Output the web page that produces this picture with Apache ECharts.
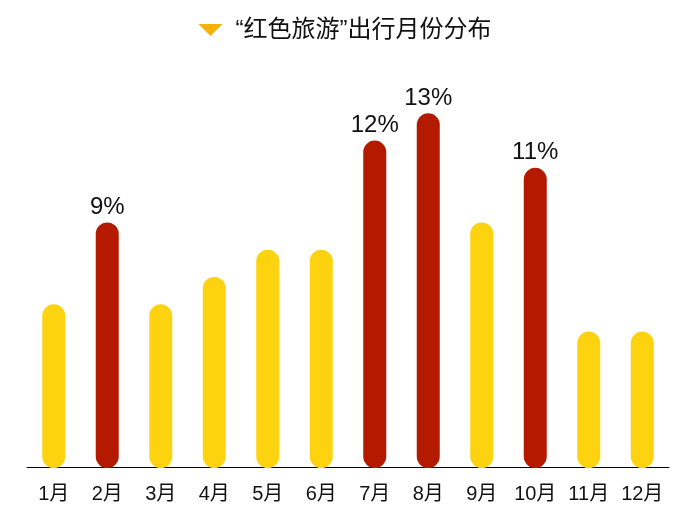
<!DOCTYPE html>
<html>
<head>
<meta charset="utf-8">
<script src="https://cdn.jsdelivr.net/npm/echarts@6/dist/echarts.min.js"></script>
<style>
html,body{margin:0;padding:0;background:#fff;}
#chart{width:690px;height:518px;}
</style>
</head>
<body>
<div id="chart"></div>
<script>
const seriesName = '“红色旅游”出行月份分布';
const months = ['1月','2月','3月','4月','5月','6月','7月','8月','9月','10月','11月','12月'];
const values = [6, 9, 6, 7, 8, 8, 12, 13, 9, 11, 5, 5];
const highlighted = ['2月','7月','8月','10月'];

const YELLOW = '#FDD310';
const RED = '#B41A00';
const FONT = '"Liberation Sans", "Noto Sans CJK SC", sans-serif';

const data = values.map((v, i) => {
  const hi = highlighted.indexOf(months[i]) >= 0;
  if (!hi) return { value: v };
  return {
    value: v,
    itemStyle: { color: RED, borderColor: RED, borderWidth: 3 },
    label: { show: true }
  };
});

const chart = echarts.init(document.getElementById('chart'), null, { renderer: 'canvas' });
chart.setOption({
  animation: false,
  backgroundColor: '#fff',
  legend: {
    data: [seriesName],
    top: 13,
    left: 'center',
    icon: 'path://M0,0 L24,0 L12,12 Z',
    itemWidth: 24,
    itemHeight: 12,
    itemStyle: { color: '#F5B10A' },
    textStyle: {
      fontSize: 24,
      color: '#111',
      fontFamily: FONT,
      padding: [0, 0, 0, 8]
    }
  },
  grid: { left: 27, right: 21, top: 86, bottom: 50 },
  xAxis: {
    type: 'category',
    data: months,
    offset: -1,
    axisLine: { lineStyle: { color: '#000', width: 1 } },
    axisTick: { show: false },
    axisLabel: {
      interval: 0,
      hideOverlap: false,
      color: '#111',
      fontSize: 20,
      margin: 17,
      fontFamily: FONT
    }
  },
  yAxis: {
    type: 'value',
    min: 0,
    max: 14,
    show: false,
    splitLine: { show: false }
  },
  series: [{
    name: seriesName,
    type: 'bar',
    data: data,
    barWidth: 23,
    clip: false,
    itemStyle: { color: YELLOW, borderRadius: 12 },
    label: {
      show: false,
      position: 'top',
      distance: 3,
      formatter: '{c}%',
      fontSize: 24,
      color: '#111',
      fontFamily: FONT
    }
  }]
});
</script>
</body>
</html>
